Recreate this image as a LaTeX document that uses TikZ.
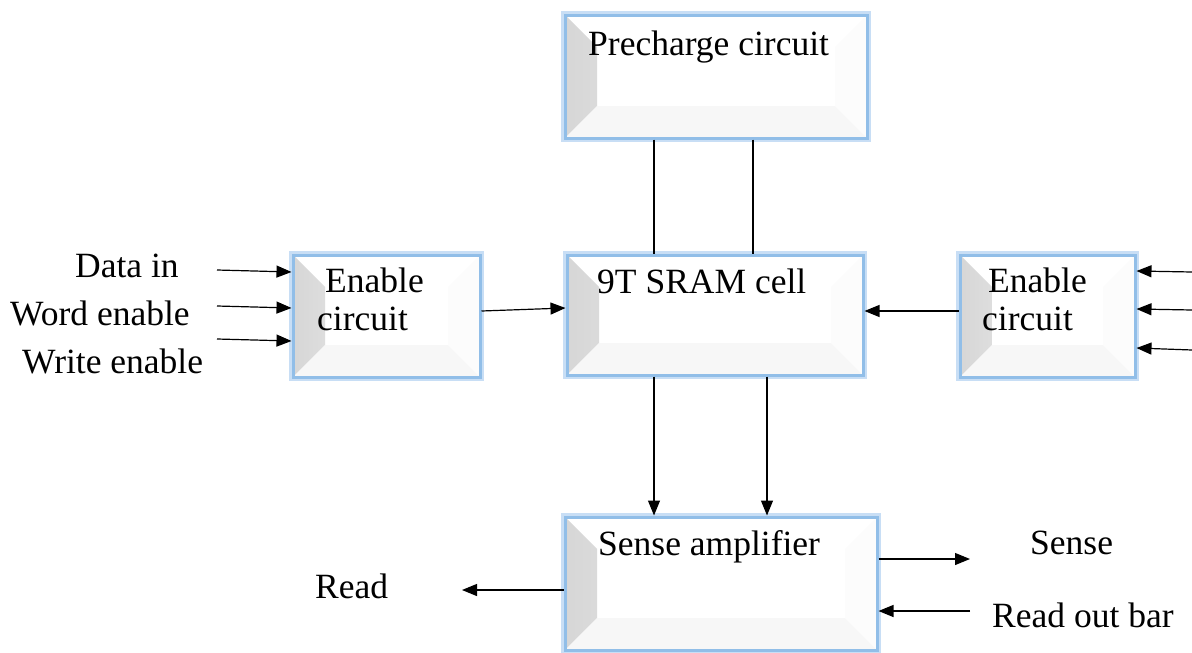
\documentclass[tikz,border=0pt]{standalone}
\usepackage{fontspec}
\setmainfont{Liberation Serif}
\usetikzlibrary{arrows.meta,calc}
\definecolor{glow}{RGB}{145,190,232}
\definecolor{glowlight}{RGB}{200,222,245}
\begin{document}
\begin{tikzpicture}[x=1pt,y=-1pt,
  blk/.style={rectangle, draw=glow, line width=3pt, fill=white, inner sep=0pt,
    preaction={draw=glowlight, line width=8pt},
    path picture={
      \shade[left color=black!16, right color=white]
        (path picture bounding box.south west) -- (path picture bounding box.north west)
        -- ([shift={(32pt,-32pt)}]path picture bounding box.north west)
        -- ([shift={(32pt,32pt)}]path picture bounding box.south west) -- cycle;
      \fill[black!3]
        (path picture bounding box.south west) -- (path picture bounding box.south east)
        -- ([shift={(-32pt,32pt)}]path picture bounding box.south east)
        -- ([shift={(32pt,32pt)}]path picture bounding box.south west) -- cycle;
      \fill[black!1]
        (path picture bounding box.south east) -- (path picture bounding box.north east)
        -- ([shift={(-32pt,-32pt)}]path picture bounding box.north east)
        -- ([shift={(-32pt,32pt)}]path picture bounding box.south east) -- cycle;
    }},
  txt/.style={font=\fontsize{35.5}{40}\selectfont, inner sep=0pt, anchor=base west},
  arr/.style={-{Triangle[length=15pt,width=12pt]}, line width=1.2pt},
  ln/.style={line width=1.2pt}]
\useasboundingbox (0,0) rectangle (1192,653);

% boxes
\node[blk, minimum width=302pt, minimum height=123pt] (pre) at (716,76.5) {};
\node[blk, minimum width=296pt, minimum height=120pt] (sram) at (715,315) {};
\node[blk, minimum width=187pt, minimum height=122pt] (enl) at (386.5,316) {};
\node[blk, minimum width=175pt, minimum height=122pt] (enr) at (1047.5,316) {};
\node[blk, minimum width=312pt, minimum height=133pt] (sa) at (721,583.5) {};

% box texts
\node[txt] (tpre) at (588,55) {Precharge circuit};
\node[txt] (tsram) at (597,293) {9T SRAM cell};
\node[txt] (tenl1) at (325,292) {Enable};
\node[txt] (tenl2) at (317,330) {circuit};
\node[txt] (tenr1) at (988,292) {Enable};
\node[txt] (tenr2) at (982,330) {circuit};
\node[txt] (tsa) at (598,555) {Sense amplifier};

% outside labels
\node[txt] (ldata) at (75,277) {Data in};
\node[txt] (lword) at (10,325) {Word enable};
\node[txt] (lwrite) at (22,373) {Write enable};
\node[txt] (lsense) at (1030,554) {Sense};
\node[txt] (lrob) at (992,627) {Read out bar};
\node[txt] (lread) at (315,598) {Read};

% free ends
\coordinate (a1) at (217,270);
\coordinate (a2) at (217,306);
\coordinate (a3) at (217,339);
\coordinate (b1) at (1192,272);
\coordinate (b2) at (1192,310);
\coordinate (b3) at (1192,350);
\coordinate (sOut) at (970,559);
\coordinate (rIn) at (970,611);
\coordinate (rOut) at (462,590);
\coordinate (x1) at (654,0);
\coordinate (x2) at (753,0);
\coordinate (x3) at (767,0);

% precharge -- sram
\draw[ln] (pre.south -| x1) -- (sram.north -| x1);
\draw[ln] (pre.south -| x2) -- (sram.north -| x2);
% sram -> sense amp
\draw[arr] (sram.south -| x1) -- (sa.north -| x1);
\draw[arr] (sram.south -| x3) -- (sa.north -| x3);
% enable -> sram
\draw[arr] (enl.east |- 0,311) -- (sram.west |- 0,308);
\draw[arr] (enr.west |- 0,311) -- (sram.east |- 0,311);
% inputs
\draw[arr] (a1) -- (enl.west |- 0,272);
\draw[arr] (a2) -- (enl.west |- 0,308);
\draw[arr] (a3) -- (enl.west |- 0,341);
\draw[arr] (b1) -- (enr.east |- 0,271);
\draw[arr] (b2) -- (enr.east |- 0,309);
\draw[arr] (b3) -- (enr.east |- 0,348);
% sense amp I/O
\draw[arr] (sa.east |- sOut) -- (sOut);
\draw[arr] (rIn) -- (sa.east |- rIn);
\draw[arr] (sa.west |- rOut) -- (rOut);
\end{tikzpicture}
\end{document}
